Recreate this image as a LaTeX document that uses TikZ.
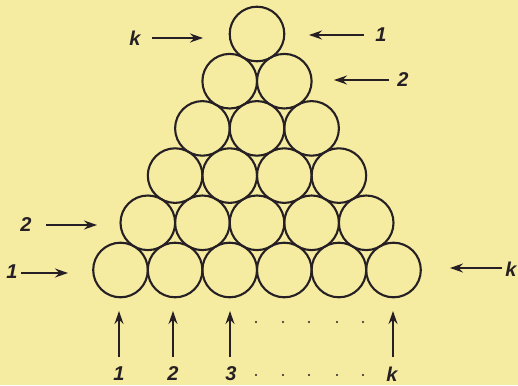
\documentclass[tikz,border=0pt]{standalone}
\usepackage{fontspec}
\setmainfont{Liberation Sans}
\usetikzlibrary{arrows.meta}
\definecolor{paper}{RGB}{245,236,162}
\definecolor{ink}{RGB}{38,32,36}
\tikzset{
  ball/.style={circle,draw=ink,line width=2.1pt,minimum size=54.6pt,inner sep=0pt,outer sep=0pt},
  arr/.style={draw=ink,line width=1.4pt,-{Stealth[length=13pt,width=9pt]}},
  lab/.style={text=ink,font=\fontsize{20}{20}\selectfont\bfseries\itshape,inner sep=0pt},
  dotn/.style={circle,fill=ink,minimum size=2.2pt,inner sep=0pt}
}
\begin{document}
\begin{tikzpicture}[x=1pt,y=-1pt]
\useasboundingbox[fill=paper] (0,0) rectangle (518,385);
% circles
\foreach \i in {0,...,5}{
  \pgfmathtruncatemacro{\n}{5-\i}
  \foreach \j in {0,...,\n}{
    \node[ball] (c-\i-\j) at ({120.5+54.6*\j+27.3*\i},{270-47.2*\i}) {};
  }
}
% labels
\node[lab] (lk) at (135,38) {k};
\node[lab] (l1r) at (381,35) {1};
\node[lab] (l2r) at (403,80) {2};
\node[lab] (l2l) at (26,225) {2};
\node[lab] (l1l) at (12,272) {1};
\node[lab] (lkr) at (511,269) {k};
\node[lab] (b1) at (119,374) {1};
\node[lab] (b2) at (173,374) {2};
\node[lab] (b3) at (231,374) {3};
\node[lab] (bk) at (392,374) {k};
% arrow coordinates
\coordinate (t1a) at (152,38); \coordinate (h1a) at (203,38);
\coordinate (t2a) at (364,35); \coordinate (h2a) at (309,35);
\coordinate (t3a) at (389,80); \coordinate (h3a) at (334,80);
\coordinate (t4a) at (46,225); \coordinate (h4a) at (97,225);
\coordinate (t5a) at (21,273); \coordinate (h5a) at (68,273);
\coordinate (t6a) at (502,268); \coordinate (h6a) at (450,268);
\coordinate (t7a) at (119,357); \coordinate (h7a) at (119,311);
\coordinate (t8a) at (173,357); \coordinate (h8a) at (173,311);
\coordinate (t9a) at (230,357); \coordinate (h9a) at (230,311);
\coordinate (t10a) at (393,357); \coordinate (h10a) at (393,311);
\foreach \k in {1,...,10}{ \draw[arr] (t\k a) -- (h\k a); }
% dots
\foreach \x [count=\m] in {256,283,309,337,363}{
  \node[dotn] (du\m) at (\x,322) {};
  \node[dotn] (dl\m) at (\x,375) {};
}
\end{tikzpicture}
\end{document}
